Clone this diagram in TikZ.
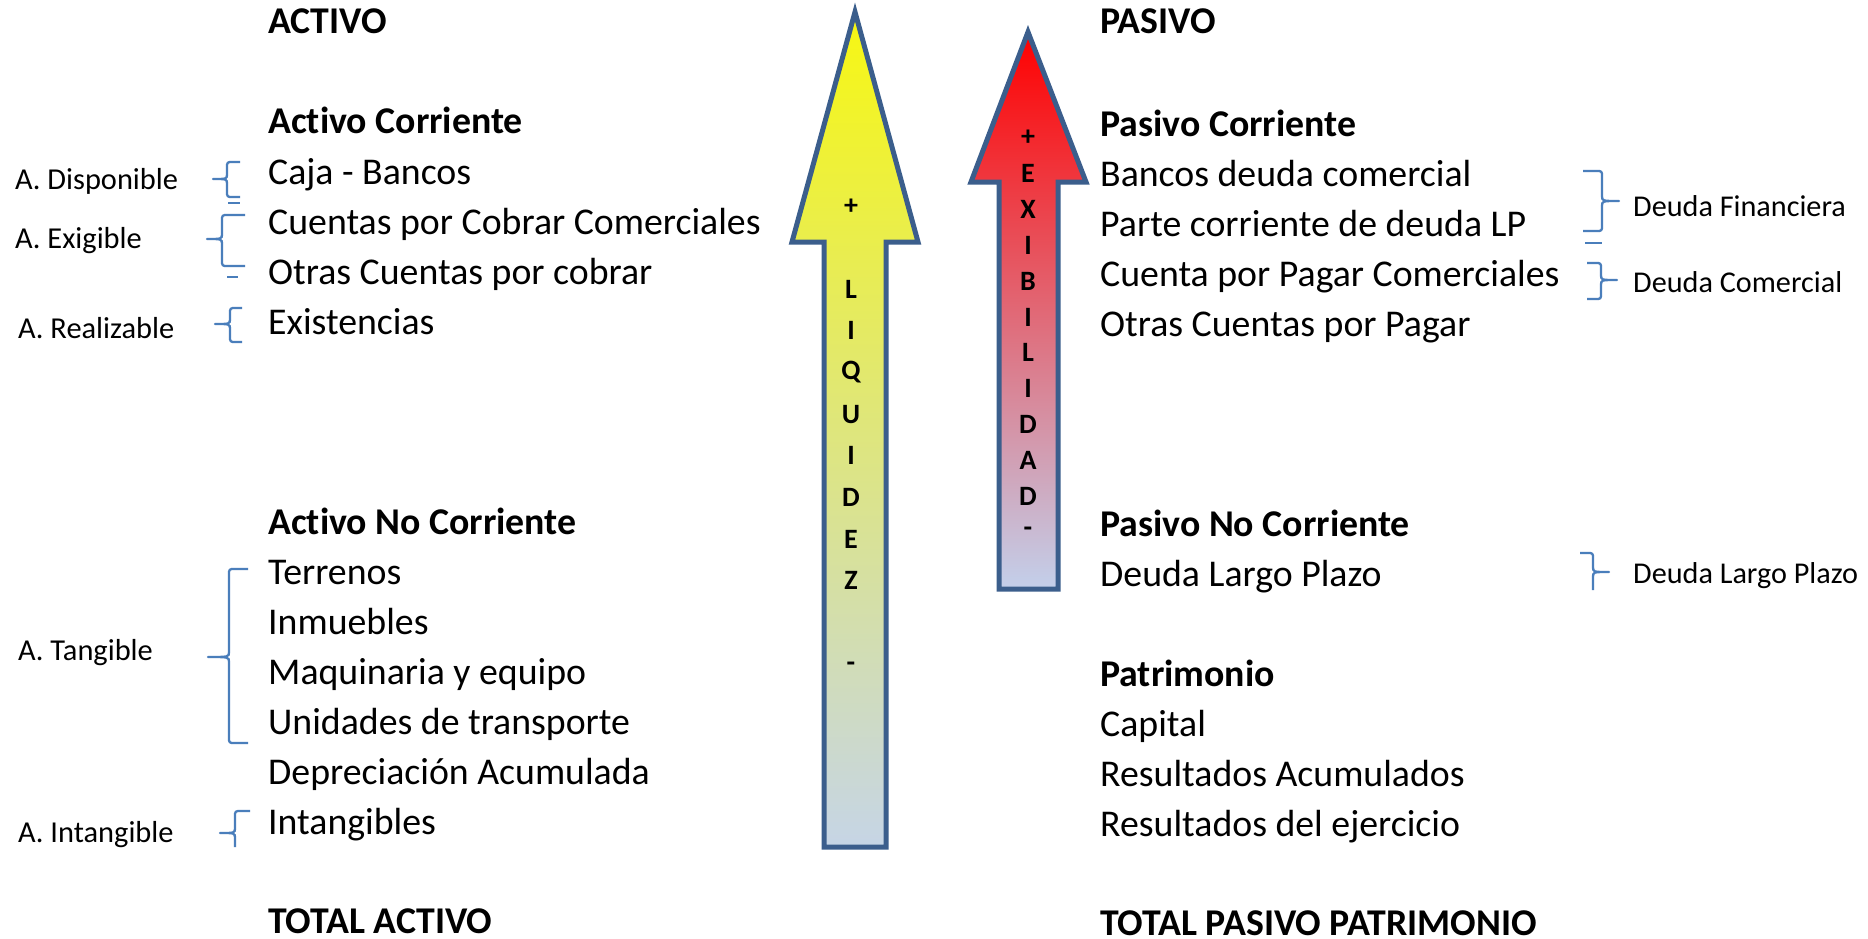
\documentclass[tikz,border=0pt]{standalone}
\usepackage{fontspec}
\setmainfont[Ligatures=NoCommon]{Carlito}
\definecolor{bluebr}{HTML}{4A7EBB}
\definecolor{arrowedge}{HTML}{3B5E8C}
\definecolor{ytop}{HTML}{F7F712}
\definecolor{ybot}{HTML}{C6D5E6}
\definecolor{rtop}{HTML}{FF0000}
\definecolor{rbot}{HTML}{C3D0EB}
% left brace: xe xv xt yt ym yb
\newcommand{\LBraceDraw}[6]{%
  \draw[brace] (#1,#4) -- (#2+6,#4) .. controls (#2,#4) .. (#2,#4+6) -- (#2,#5-5)
    .. controls (#2,#5) .. (#3,#5) .. controls (#2,#5) .. (#2,#5+5) -- (#2,#6-6)
    .. controls (#2,#6) .. (#2+6,#6) -- (#1,#6);}
\newcommand{\RBraceDraw}[6]{%
  \draw[brace] (#1,#4) -- (#2-6,#4) .. controls (#2,#4) .. (#2,#4+6) -- (#2,#5-5)
    .. controls (#2,#5) .. (#3,#5) .. controls (#2,#5) .. (#2,#5+5) -- (#2,#6-6)
    .. controls (#2,#6) .. (#2-6,#6) -- (#1,#6);}
\begin{document}
\begin{tikzpicture}[x=1pt,y=-1pt,
  txt/.style={anchor=base west,inner sep=0pt,text depth=0pt,font=\fontsize{37.8}{44}\selectfont},
  hd/.style={txt,font=\fontsize{37.8}{44}\selectfont\bfseries},
  lab/.style={anchor=base west,inner sep=0pt,text depth=0pt,font=\fontsize{30.4}{36}\selectfont},
  rlab/.style={anchor=base west,inner sep=0pt,text depth=0pt,font=\fontsize{30.2}{36}\selectfont},
  letter/.style={anchor=center,inner sep=0pt,font=\fontsize{28}{34}\selectfont\bfseries},
  brace/.style={draw=bluebr,line width=2.3pt,line join=round},
  arrowshape/.style={draw=arrowedge,line width=5pt,line join=miter}]
\useasboundingbox (0,0) rectangle (1868,939);
\fill[white] (0,0) rectangle (1868,939);

% Yellow arrow (liquidez)
\path[arrowshape,top color=ytop,bottom color=ybot]
  (855,12) -- (918,242) -- (886,242) -- (886,847) -- (824,847) -- (824,242) -- (792,242) -- cycle;
% Red arrow (exigibilidad)
\path[arrowshape,top color=rtop,bottom color=rbot]
  (1028,32) -- (1086,182) -- (1058,182) -- (1058,589) -- (999,589) -- (999,182) -- (971,182) -- cycle;

% letters yellow arrow
\node[letter] (yp) at (851,207) {+};
\node[letter] (y1) at (851,289) {L};
\node[letter] (y2) at (851,330.7) {I};
\node[letter] (y3) at (851,372.4) {Q};
\node[letter] (y4) at (851,414.1) {U};
\node[letter] (y5) at (851,455.8) {I};
\node[letter] (y6) at (851,497.5) {D};
\node[letter] (y7) at (851,539.2) {E};
\node[letter] (y8) at (851,580.9) {Z};
\node[letter] (ym) at (851,667) {-};

% letters red arrow
\node[letter] (rp) at (1028,138) {+};
\node[letter] (r1) at (1028,173.8) {E};
\node[letter] (r2) at (1028,209.6) {X};
\node[letter] (r3) at (1028,245.4) {I};
\node[letter] (r4) at (1028,281.2) {B};
\node[letter] (r5) at (1028,317) {I};
\node[letter] (r6) at (1028,352.8) {L};
\node[letter] (r7) at (1028,388.6) {I};
\node[letter] (r8) at (1028,424.4) {D};
\node[letter] (r9) at (1028,460.2) {A};
\node[letter] (r10) at (1028,496) {D};
\node[letter] (rm) at (1028,531.8) {-};

% Left column
\node[hd] (activo) at (268,34) {ACTIVO};
\node[hd] (ac) at (268,134) {Activo Corriente};
\node[txt] (caja) at (268,184) {Caja - Bancos};
\node[txt] (cxc) at (268,234) {Cuentas por Cobrar Comerciales};
\node[txt] (ocxc) at (268,284) {Otras Cuentas por cobrar};
\node[txt] (exist) at (268,334) {Existencias};
\node[hd] (anc) at (268,534) {Activo No Corriente};
\node[txt] (terr) at (268,584) {Terrenos};
\node[txt] (inm) at (268,634) {Inmuebles};
\node[txt] (maq) at (268,684) {Maquinaria y equipo};
\node[txt] (unid) at (268,734) {Unidades de transporte};
\node[txt] (depr) at (268,784) {Depreciación Acumulada};
\node[txt] (intg) at (268,834) {Intangibles};
\node[hd] (tact) at (268,933) {TOTAL ACTIVO};

% Right column
\node[hd] (pasivo) at (1100,34) {PASIVO};
\node[hd] (pc) at (1100,136) {Pasivo Corriente};
\node[txt] (bdc) at (1100,186) {Bancos deuda comercial};
\node[txt] (pcd) at (1100,236) {Parte corriente de deuda LP};
\node[txt] (cpp) at (1100,286) {Cuenta por Pagar Comerciales};
\node[txt] (ocpp) at (1100,336) {Otras Cuentas por Pagar};
\node[hd] (pnc) at (1100,536) {Pasivo No Corriente};
\node[txt] (dlp) at (1100,586) {Deuda Largo Plazo};
\node[hd] (patr) at (1100,686) {Patrimonio};
\node[txt] (cap) at (1100,736) {Capital};
\node[txt] (racum) at (1100,786) {Resultados Acumulados};
\node[txt] (rej) at (1100,836) {Resultados del ejercicio};
\node[hd] (tpp) at (1100,935) {TOTAL PASIVO PATRIMONIO};

% Left labels
\node[lab] (ldisp) at (15,189.5) {A. Disponible};
\node[lab] (lexig) at (15,248.5) {A. Exigible};
\node[lab] (lreal) at (18,338.5) {A. Realizable};
\node[lab] (ltang) at (18,660.5) {A. Tangible};
\node[lab] (lintg) at (18,842.5) {A. Intangible};

% Right labels
\node[rlab] (dfin) at (1633,216.5) {Deuda Financiera};
\node[rlab] (dcom) at (1633,292.5) {Deuda Comercial};
\node[rlab] (dlarg) at (1633,583.5) {Deuda Largo Plazo};

% Left braces
\LBraceDraw{240}{227}{213}{162}{179}{197}
\draw[brace] (228,203) -- (240,203);
\LBraceDraw{245}{222}{207}{215}{239}{266}
\draw[brace] (227,277) -- (238,277);
\LBraceDraw{242}{230}{215}{308}{324}{342}
\LBraceDraw{248}{229}{208}{569}{657}{743}
\draw[brace] (250,811) -- (241,811) .. controls (235,811) .. (235,817) -- (235,828)
  .. controls (235,833) .. (220,833) .. controls (235,833) .. (235,838) -- (235,847);

% Right braces
\RBraceDraw{1583}{1602}{1619}{171}{201}{231}
\draw[brace] (1585,243) -- (1602,243);
\RBraceDraw{1587}{1601}{1617}{263}{280}{299}
\draw[brace] (1580,553) -- (1587,553) .. controls (1593,553) .. (1593,559) -- (1593,567)
  .. controls (1593,572) .. (1609,572) .. controls (1593,572) .. (1593,577) -- (1593,590);
\end{tikzpicture}
\end{document}
